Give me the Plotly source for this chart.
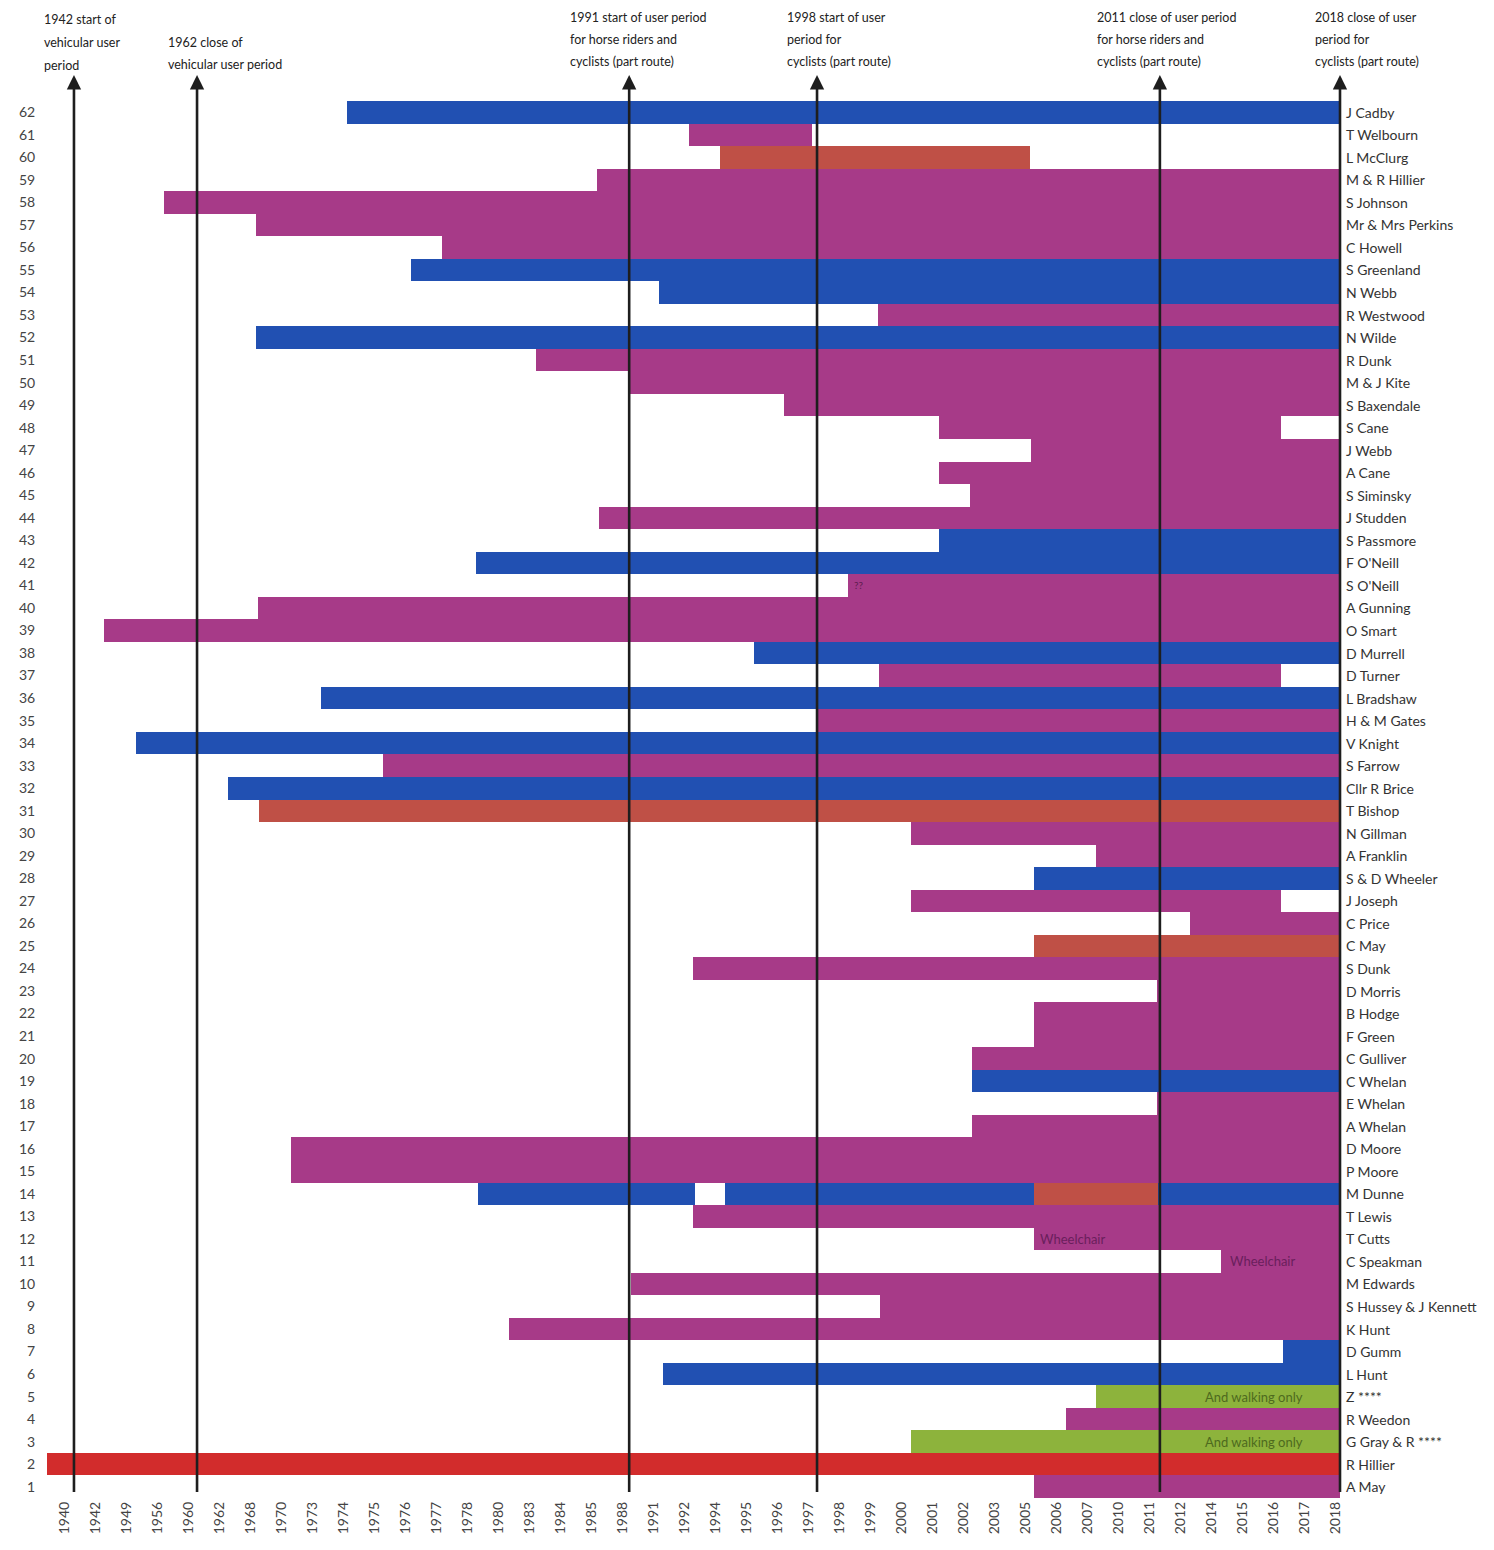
import plotly.graph_objects as go

# ---------------- data ----------------
years = ['1940', '1942', '1949', '1956', '1960', '1962', '1968', '1970', '1973', '1974',
         '1975', '1976', '1977', '1978', '1980', '1983', '1984', '1985', '1988', '1991',
         '1992', '1994', '1995', '1996', '1997', '1998', '1999', '2000', '2001', '2002',
         '2003', '2005', '2006', '2007', '2010', '2011', '2012', '2014', '2015', '2016',
         '2017', '2018']

row_numbers = list(range(1, 63))
names = ['A May', 'R Hillier', 'G Gray & R ****', 'R Weedon', 'Z ****', 'L Hunt', 'D Gumm',
         'K Hunt', 'S Hussey & J Kennett', 'M Edwards', 'C Speakman', 'T Cutts', 'T Lewis',
         'M Dunne', 'P Moore', 'D Moore', 'A Whelan', 'E Whelan', 'C Whelan', 'C Gulliver',
         'F Green', 'B Hodge', 'D Morris', 'S Dunk', 'C May', 'C Price', 'J Joseph',
         'S & D Wheeler', 'A Franklin', 'N Gillman', 'T Bishop', 'Cllr R Brice', 'S Farrow',
         'V Knight', 'H & M Gates', 'L Bradshaw', 'D Turner', 'D Murrell', 'O Smart',
         'A Gunning', "S O'Neill", "F O'Neill", 'S Passmore', 'J Studden', 'S Siminsky',
         'A Cane', 'J Webb', 'S Cane', 'S Baxendale', 'M & J Kite', 'R Dunk', 'N Wilde',
         'R Westwood', 'N Webb', 'S Greenland', 'C Howell', 'Mr & Mrs Perkins', 'S Johnson',
         'M & R Hillier', 'L McClurg', 'T Welbourn', 'J Cadby']

# segments: row, start, end (on the year-column axis), kind
seg_row = [62, 61, 60, 59, 58, 57, 56, 55, 54, 53,
           52, 51, 50, 49, 48, 47, 46, 45, 44, 43,
           42, 41, 40, 39, 38, 37, 36, 35, 34, 33,
           32, 31, 30, 29, 28, 27, 26, 25, 24, 23,
           22, 21, 20, 19, 18, 17, 16, 15, 14, 14,
           14, 14, 13, 12, 11, 10, 9, 8, 7, 6,
           5, 4, 3, 2, 1]
seg_start = [9.13, 20.16, 21.16, 17.19, 3.23, 6.19, 12.19, 11.19, 19.19, 26.26,
             6.19, 15.23, 18.23, 23.23, 28.23, 31.19, 28.23, 29.23, 17.26, 28.23,
             13.29, 25.29, 6.26, 1.29, 22.26, 26.29, 8.29, 24.26, 2.32, 10.29,
             5.29, 6.29, 27.32, 33.29, 31.29, 27.32, 36.32, 31.29, 20.29, 35.26,
             31.29, 31.29, 29.29, 29.29, 35.26, 29.29, 7.32, 7.32, 13.35, 21.32,
             31.29, 35.29, 20.29, 31.29, 37.32, 18.29, 26.32, 14.35, 39.32, 19.32,
             33.29, 32.32, 27.32, -0.55, 31.29]
seg_end = [41.16, 24.13, 31.16, 41.16, 41.16, 41.16, 41.16, 41.16, 41.16, 41.16,
           41.16, 41.16, 41.16, 41.16, 39.26, 41.16, 41.16, 41.16, 41.16, 41.16,
           41.16, 41.16, 41.16, 41.16, 41.16, 39.26, 41.16, 41.16, 41.16, 41.16,
           41.16, 41.16, 41.16, 41.16, 41.16, 39.26, 41.16, 41.16, 41.16, 41.16,
           41.16, 41.16, 41.16, 41.16, 41.16, 41.16, 41.16, 41.16, 20.35, 31.29,
           35.29, 41.16, 41.16, 41.16, 41.16, 41.16, 41.16, 41.16, 41.16, 41.16,
           41.16, 41.16, 41.16, 41.16, 41.16]
seg_kind = ['B', 'P', 'O', 'P', 'P', 'P', 'P', 'B', 'B', 'P',
            'B', 'P', 'P', 'P', 'P', 'P', 'P', 'P', 'P', 'B',
            'B', 'P', 'P', 'P', 'B', 'P', 'B', 'P', 'B', 'P',
            'B', 'O', 'P', 'P', 'B', 'P', 'P', 'O', 'P', 'P',
            'P', 'P', 'P', 'B', 'P', 'P', 'P', 'P', 'B', 'B',
            'O', 'B', 'P', 'P', 'P', 'P', 'P', 'P', 'B', 'B',
            'G', 'P', 'G', 'R', 'P']

kind_colors = {'B': '#2150b2', 'P': '#a73a88', 'O': '#bf5046', 'R': '#d22c2c', 'G': '#8db33c'}

# event arrows
arrow_x = [0.32, 4.29, 18.23, 24.29, 35.35, 41.16]
arrow_labels = [
    ['1942 start of', 'vehicular user', 'period'],
    ['1962 close of', 'vehicular user period'],
    ['1991 start of user period', 'for horse riders and', 'cyclists (part route)'],
    ['1998 start of user', 'period for', 'cyclists (part route)'],
    ['2011 close of user period', 'for horse riders and', 'cyclists (part route)'],
    ['2018 close of user', 'period for', 'cyclists (part route)'],
]

# notes written on bars: text, row, position
note_text = ['??', 'Wheelchair', 'Wheelchair', 'And walking only', 'And walking only']
note_row = [41, 12, 11, 5, 3]
note_x = [25.42, 31.42, 37.55, 38.39, 38.39]

# ---------------- layout geometry ----------------
OFF = 8                      # page body margin
W, H = 1494 - 2 * OFF, 1550 - 2 * OFF
ML, MT = 47 - OFF, 101 - OFF
MR = W - (1340 - OFF)
MB = H - (1498 - OFF)
PW, PH = W - ML - MR, H - MT - MB
FONT = 'Lato'

fig = go.Figure()

for k, col in kind_colors.items():
    idx = [i for i, kk in enumerate(seg_kind) if kk == k]
    fig.add_trace(go.Bar(
        orientation='h',
        y=[seg_row[i] for i in idx],
        base=[seg_start[i] for i in idx],
        x=[seg_end[i] - seg_start[i] for i in idx],
        width=1.0,
        marker=dict(color=col, line=dict(width=0)),
        showlegend=False,
        hoverinfo='skip',
    ))

annotations = []

# names on the right
for r, nm in zip(row_numbers, names):
    annotations.append(dict(
        x=1, xref='paper', xshift=4, y=r, yref='y', text=nm, showarrow=False,
        xanchor='left', yanchor='middle', font=dict(family=FONT, size=14, color='#333333')))

# arrows
for ax_ in arrow_x:
    annotations.append(dict(
        x=ax_, y=63.65, xref='x', yref='y', ax=ax_, ay=0.7, axref='x', ayref='y',
        text='', showarrow=True, arrowhead=2, arrowsize=1.1, arrowwidth=2.6,
        arrowcolor='#1e1e1e', standoff=0, startstandoff=0))

# arrow labels (screen-pixel placement)
label_left_px = [42, 166, 568, 785, 1095, 1313]
label_top_px = [20, 42, 17, 17, 17, 17]
for lines, lx, ty in zip(arrow_labels, label_left_px, label_top_px):
    for j, ln in enumerate(lines):
        py = ty + 22.5 * j - OFF
        annotations.append(dict(
            x=(lx - OFF - ML) / PW, xref='paper', y=(H - MB - py) / PH, yref='paper',
            text=ln, showarrow=False, xanchor='left', yanchor='middle',
            font=dict(family=FONT, size=12.5, color='#222222')))

# notes on bars
note_color = {'??': '#5e1d50', 'Wheelchair': '#6a1f5c', 'And walking only': '#4e6a1e'}
for t, r, xx in zip(note_text, note_row, note_x):
    center = t == 'And walking only'
    annotations.append(dict(
        x=xx, xref='x', y=r, yref='y', text=t, showarrow=False,
        xanchor='center' if center else 'left', yanchor='middle',
        font=dict(family=FONT, size=10 if t == '??' else 13, color=note_color[t])))

fig.update_layout(
    width=W, height=H,
    margin=dict(l=ML, r=MR, t=MT, b=MB, autoexpand=False),
    paper_bgcolor='white', plot_bgcolor='white',
    barmode='overlay', bargap=0,
    annotations=annotations,
    xaxis=dict(range=[-0.55, 41.16], tickmode='array', tickvals=list(range(len(years))),
               ticktext=years, tickangle=-90, showgrid=False, zeroline=False,
               showline=False, ticks='', automargin=False,
               tickfont=dict(family=FONT, size=14, color='#444444')),
    yaxis=dict(range=[0.5, 62.5], tickmode='array', tickvals=row_numbers,
               ticktext=[str(r) for r in row_numbers], showgrid=False, zeroline=False,
               showline=False, ticks='outside', ticklen=8, tickcolor='rgba(0,0,0,0)',
               automargin=False,
               tickfont=dict(family=FONT, size=14, color='#444444')),
    font=dict(family=FONT),
)

fig.write_html('out.html')
